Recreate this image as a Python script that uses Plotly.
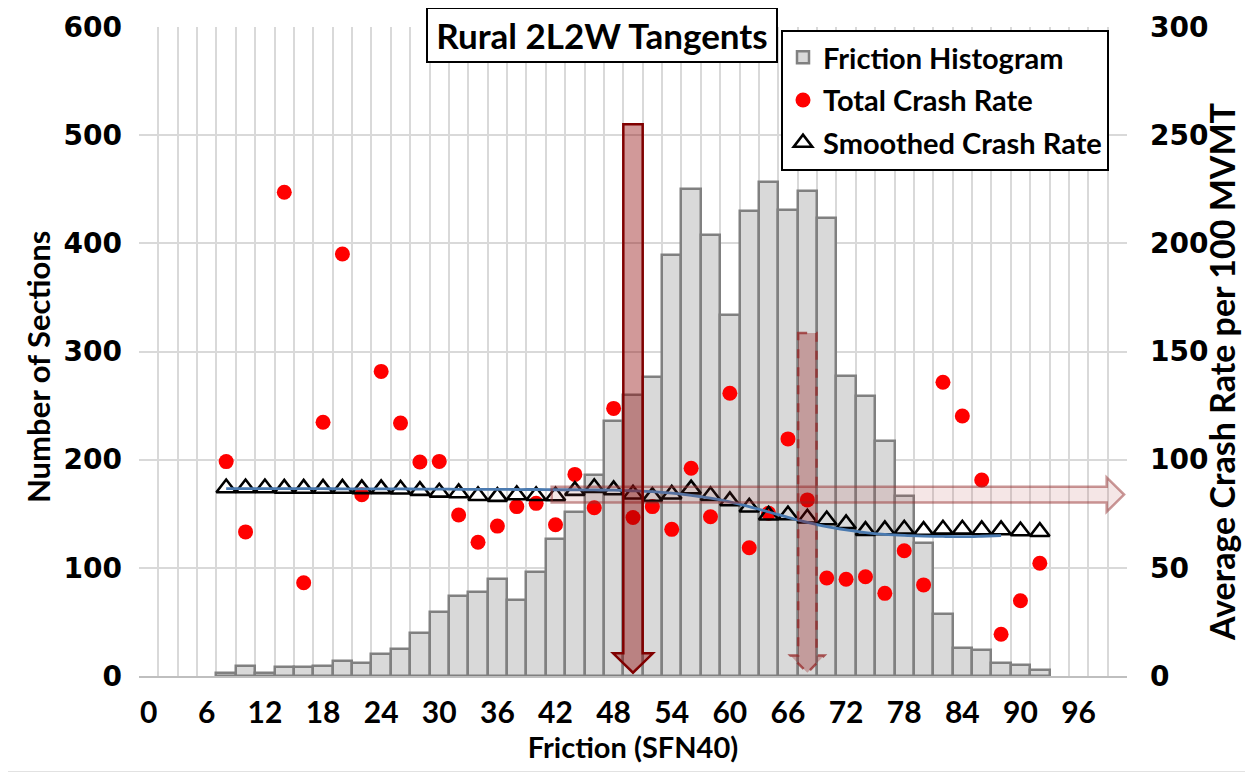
import plotly.graph_objects as go

# ---------------- data ----------------
friction = list(range(8, 94, 2))
section_counts = [3, 9, 3, 8, 8, 9, 14, 12, 20, 25, 40, 59, 74, 78, 90, 70, 96, 127,
                  152, 186, 236, 260, 276, 389, 450, 408, 334, 430, 457, 431, 448, 423,
                  277, 259, 217, 166, 123, 57, 26, 24, 12, 10, 6]
total_crash_rate = [99.1, 66.6, None, 223.6, 43.1, 117.3, 195.1, 83.8, 140.8, 116.9,
                    98.9, 99.2, 74.4, 61.8, 69.3, 78.3, 79.8, 69.9, 93.2, 77.8, 123.7,
                    73.3, 78.3, 67.8, 96.0, 73.6, 130.7, 59.3, 75.2, 109.6, 81.4, 45.3,
                    44.7, 45.9, 38.2, 57.9, 42.1, 135.8, 120.2, 90.6, 19.3, 34.8, 52.1]
smoothed_crash_rate = [86.9, 86.9, 86.9, 86.7, 86.7, 86.7, 86.7, 86.5, 86.5, 86.3,
                       85.7, 84.9, 84.6, 83.3, 82.9, 83.7, 83.3, 83.2, 85.7, 87.0, 86.0,
                       84.0, 82.9, 84.0, 86.4, 83.3, 80.9, 78.0, 74.3, 74.4, 72.9, 72.1,
                       70.3, 67.2, 67.5, 67.8, 67.2, 67.8, 67.8, 67.5, 67.5, 67.0, 66.7]
trend_friction = list(range(8, 90, 2))
trend_rate = [86.6, 86.6, 86.6, 86.6, 86.6, 86.6, 86.5, 86.5, 86.5, 86.5, 86.4, 86.4,
              86.3, 86.3, 86.3, 86.2, 86.2, 86.1, 86.1, 86.0, 85.9, 85.6, 85.2, 84.5,
              83.5, 82.2, 80.5, 78.3, 75.8, 73.3, 71.0, 69.0, 67.5, 66.3, 65.5, 65.0,
              64.7, 64.5, 64.4, 64.6, 64.9]
x_tick_vals = list(range(0, 97, 6))

# annotation arrows (friction / counts / crash-rate units)
main_arrow = dict(x=50, top=510, head=21, tip=3, half=1.0, head_half=2.05)
dash_arrow = dict(x=68, top=317, head=19, tip=3, half=0.95, head_half=1.75)
horiz_arrow = dict(y=83.85, start=41.6, head=98.9, tip=100.7, half=3.65, head_half=7.95)

FONT = "Lato"
YFONT = "DejaVu Sans"
# plot area in page pixels (page has an 8px body margin)
PL, PR, PT, PB = 139, 1127, 27, 676
OFF = 8
W, H = 1253, 772


def px(xp):
    return (xp - PL) / (PR - PL)


def py(yp):
    return (PB - yp) / (PB - PT)


fig = go.Figure()
fig.add_trace(go.Bar(
    x=friction, y=section_counts, width=2, name="Friction Histogram",
    marker=dict(color="#d9d9d9", line=dict(color="#808080", width=2.5)),
    legendgroup="a"))
fig.add_trace(go.Scatter(
    x=friction, y=total_crash_rate, yaxis="y2", mode="markers", name="Total Crash Rate",
    marker=dict(symbol="circle", size=15, color="#ff0000"), legendgroup="b"))
fig.add_trace(go.Scatter(
    x=friction, y=smoothed_crash_rate, yaxis="y2", mode="markers", name="Smoothed Crash Rate",
    marker=dict(symbol="triangle-up-open", size=17, color="#000000", line=dict(width=2.6)),
    legendgroup="c"))
fig.add_trace(go.Scatter(
    x=trend_friction, y=trend_rate, yaxis="y2", mode="lines", showlegend=False,
    line=dict(color="#4a7ab0", width=2.8, shape="spline"), hoverinfo="skip"))


def vpath(a):
    x, h, hh = a["x"], a["half"], a["head_half"]
    return (f"M{x-h},{a['top']} L{x+h},{a['top']} L{x+h},{a['head']} L{x+hh},{a['head']} "
            f"L{x},{a['tip']} L{x-hh},{a['head']} L{x-h},{a['head']} Z")


def hpath(a):
    y, h, hh = a["y"], a["half"], a["head_half"]
    return (f"M{a['start']},{y-h} L{a['head']},{y-h} L{a['head']},{y-hh} L{a['tip']},{y} "
            f"L{a['head']},{y+hh} L{a['head']},{y+h} L{a['start']},{y+h} Z")


shapes = [
    dict(type="path", xref="x", yref="y2", path=hpath(horiz_arrow), layer="above",
         fillcolor="rgba(180,60,60,0.13)", line=dict(color="rgba(150,50,50,0.5)", width=2.5)),
    dict(type="path", xref="x", yref="y", path=vpath(main_arrow), layer="above",
         fillcolor="rgba(140,0,0,0.4)", line=dict(color="#800000", width=2.5)),
    dict(type="path", xref="x", yref="y", path=vpath(dash_arrow), layer="above",
         fillcolor="rgba(140,0,0,0.28)", line=dict(color="rgba(150,40,40,0.75)", width=2.5, dash="dash")),
    # chart-area border
    dict(type="rect", xref="paper", yref="paper",
         x0=px(6.5), x1=px(1250), y0=py(772), y1=py(6.5),
         line=dict(color="#d9d9d9", width=1.5), layer="below"),
]

grid = "#d9d9d9"
fig.update_layout(
    width=W, height=H,
    margin=dict(l=PL - OFF, r=W - (PR - OFF), t=PT - OFF, b=H - (PB - OFF), autoexpand=False),
    paper_bgcolor="white", plot_bgcolor="white",
    font=dict(family=FONT, color="black", size=30, weight="bold"),
    bargap=0,
    showlegend=True,
    legend=dict(x=px(781), y=py(30), xanchor="left", yanchor="top",
                bgcolor="white", bordercolor="black", borderwidth=2,
                font=dict(family=FONT, size=29, weight="bold"),
                traceorder="grouped", tracegroupgap=2, itemsizing="trace"),
    xaxis=dict(range=[-1, 101], tickvals=x_tick_vals, ticks="", showgrid=False, zeroline=False,
               showline=True, linecolor="#bfbfbf", linewidth=2, automargin=False,
               minor=dict(tick0=-1, dtick=2, showgrid=True, gridcolor=grid, gridwidth=1.5),
               tickfont=dict(size=30, weight="bold"), ticklabelstandoff=9,
               title=dict(text="Friction (SFN40)", font=dict(size=29, weight="bold"), standoff=6)),
    yaxis=dict(range=[0, 600], dtick=100, showgrid=True, gridcolor=grid, gridwidth=1.5,
               zeroline=False, ticks="", ticklabelstandoff=16, ticklabeloverflow="allow",
               automargin=False, tickfont=dict(family=YFONT, size=28, weight="bold")),
    yaxis2=dict(range=[0, 300], dtick=50, overlaying="y", side="right", showgrid=False,
                zeroline=False, ticks="", ticklabelstandoff=22, ticklabeloverflow="allow",
                automargin=False, tickfont=dict(family=YFONT, size=28, weight="bold")),
    shapes=shapes,
    annotations=[
        dict(text="Rural 2L2W Tangents", xref="paper", yref="paper",
             x=px(602), y=py(35), xanchor="center", yanchor="middle",
             showarrow=False, bgcolor="white", bordercolor="black", borderwidth=2,
             borderpad=6, width=336, height=40,
             font=dict(family=FONT, size=35, weight="bold")),
        dict(text="Number of Sections", xref="paper", yref="paper",
             x=px(38), y=py(367), xanchor="center", yanchor="middle", textangle=-90,
             showarrow=False, font=dict(family=FONT, size=31, weight="bold")),
        dict(text="Average Crash Rate per 100 MVMT", xref="paper", yref="paper",
             x=px(1221), y=py(372), xanchor="center", yanchor="middle", textangle=-90,
             showarrow=False, font=dict(family=FONT, size=34, weight="bold")),
    ],
)

fig.write_html("out.html")
